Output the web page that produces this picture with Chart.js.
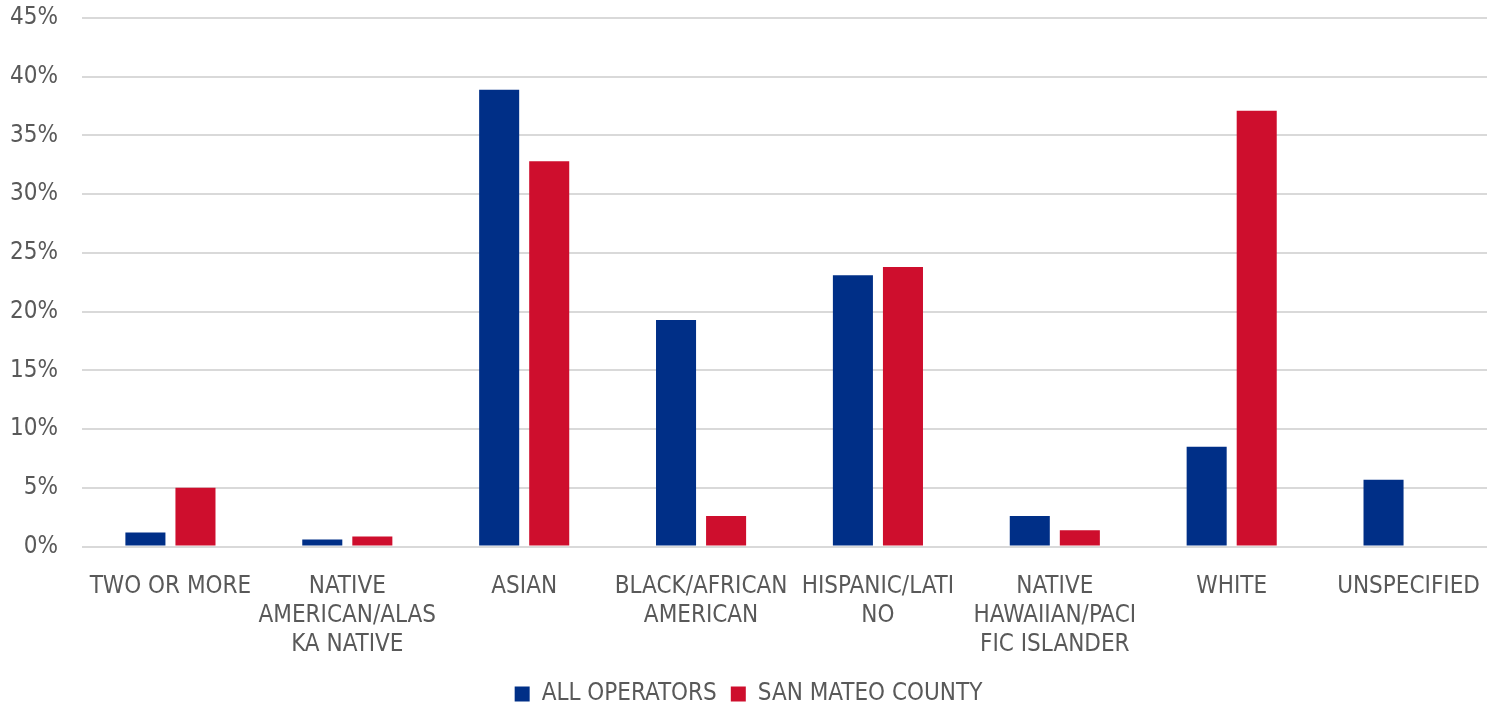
<!DOCTYPE html>
<html lang="en">
<head>
  <meta charset="UTF-8">
  <title>Operators by Race/Ethnicity</title>
  <script src="https://cdn.jsdelivr.net/npm/chart.js"></script>
  <style>
    html, body {
      margin: 0;
      padding: 0;
      background: #fff;
      overflow: hidden;
    }
    .chart-container {
      width: 1497px;
      height: 702px;
    }
  </style>
</head>
<body>

<div class="chart-container">
  <canvas id="raceChart"></canvas>
</div>

<script>
const categories = [
  'TWO OR MORE',
  ['NATIVE', 'AMERICAN/ALAS', 'KA NATIVE'],
  'ASIAN',
  ['BLACK/AFRICAN', 'AMERICAN'],
  ['HISPANIC/LATI', 'NO'],
  ['NATIVE', 'HAWAIIAN/PACI', 'FIC ISLANDER'],
  'WHITE',
  'UNSPECIFIED'
];
const allOperators = [1.2, 0.6, 38.9, 19.3, 23.1, 2.6, 8.5, 5.7];
const sanMateo = [5.0, 0.85, 32.8, 2.6, 23.8, 1.4, 37.1, 0];
const yTicks = [0, 5, 10, 15, 20, 25, 30, 35, 40, 45];

const textColor = '#595959';
const fontFamily = '"DejaVu Sans Condensed", "DejaVu Sans", Tahoma, sans-serif';

// nudge the legend up a bit so it sits close under the labels like the original
const legendNudge = {
  id: 'legendNudge',
  afterLayout(chart) {
    chart.legend.top -= 17;
    chart.legend.bottom -= 17;
  }
};

const ctx = document.getElementById('raceChart').getContext('2d');
new Chart(ctx, {
  type: 'bar',
  data: {
    labels: categories,
    datasets: [
      {
        label: 'ALL OPERATORS',
        data: allOperators,
        backgroundColor: '#002F87',
        barPercentage: 0.8,
        categoryPercentage: 0.566
      },
      {
        label: 'SAN MATEO COUNTY',
        data: sanMateo,
        backgroundColor: '#CE0E2D',
        barPercentage: 0.8,
        categoryPercentage: 0.566
      }
    ]
  },
  plugins: [legendNudge],
  options: {
    responsive: true,
    maintainAspectRatio: false,
    animation: false,
    layout: { padding: { top: 18, right: 0, left: 0, bottom: -31 } },
    scales: {
      x: {
        afterFit: axis => {
          axis.paddingLeft = 0;
          axis.paddingRight = 0;
        },
        grid: { display: false, drawTicks: false },
        border: { display: false },
        ticks: {
          color: textColor,
          padding: 26,
          maxRotation: 0,
          autoSkip: false,
          font: { family: fontFamily, size: 24, lineHeight: 1.2 }
        }
      },
      y: {
        min: 0,
        max: 45,
        afterBuildTicks: axis => { axis.ticks = yTicks.map(v => ({ value: v })); },
        afterFit: axis => {
          axis.width = 82;
          axis.paddingTop = 0;
          axis.paddingBottom = 0;
        },
        grid: { color: '#D9D9D9', lineWidth: 2, drawTicks: false },
        border: { display: false },
        ticks: {
          color: textColor,
          padding: 24,
          callback: v => v + '%',
          font: { family: fontFamily, size: 24 }
        }
      }
    },
    plugins: {
      legend: {
        position: 'bottom',
        labels: {
          color: textColor,
          boxWidth: 15,
          boxHeight: 15,
          padding: 14,
          font: { family: fontFamily, size: 24 }
        }
      },
      tooltip: { enabled: false }
    }
  }
});
</script>
</body>
</html>
